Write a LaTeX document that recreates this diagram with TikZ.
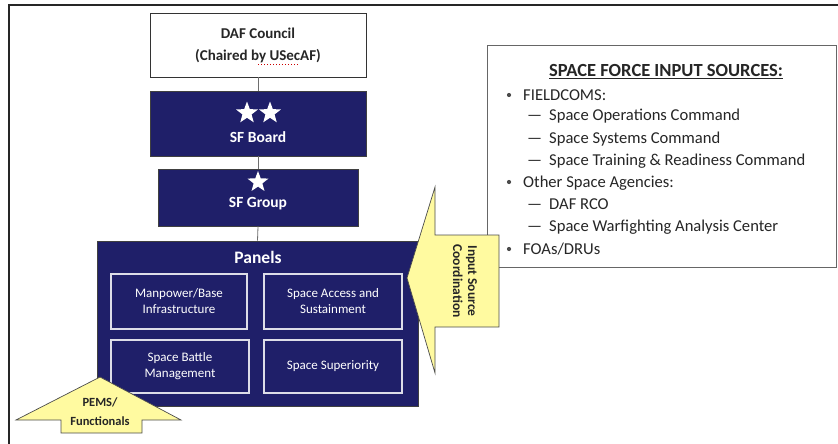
\documentclass[tikz,border=0pt]{standalone}
\usepackage{fontspec}
\setmainfont{Carlito}
\usetikzlibrary{shapes.geometric}
\definecolor{navy}{RGB}{31,31,105}
\definecolor{pale}{RGB}{255,250,160}
\definecolor{conn}{RGB}{110,110,110}
\begin{document}
\begin{tikzpicture}[x=1pt,y=-1pt,
  navybox/.style={draw=black!75, line width=0.8pt, fill=navy, inner sep=0pt},
  panelbox/.style={draw=white!85!navy, line width=1.2pt, fill=navy, inner sep=0pt, text=white, align=center, font=\fontsize{13}{16}\selectfont},
  whitestar/.style={star, star points=5, star point ratio=2.4, fill=white, inner sep=0pt, minimum size=23pt},
  boldlbl/.style={text=white, font=\bfseries\fontsize{15.5}{18}\selectfont, inner sep=0pt},
  connector/.style={draw=conn, line width=0.8pt},
  yellowarrow/.style={draw=black!70, line width=0.7pt, fill=pale},
  listtxt/.style={anchor=base west, inner sep=0pt, text=black!85, font=\fontsize{16.6}{19}\selectfont},
  bulletdot/.style={circle, fill=black!70, inner sep=0pt, minimum size=4.2pt},
]
\useasboundingbox (0,0) rectangle (838,444);
% outer frame (top and left edges visible)
\draw[line width=1.2pt, black!85] (9,444) -- (9,5) -- (838,5);

% DAF council
\node[draw=black!80, line width=0.9pt, fill=white, minimum width=216pt, minimum height=64pt, inner sep=0pt,
      align=center, font=\bfseries\fontsize{15}{22}\selectfont, text=black!85] (daf) at (258,45)
      {DAF Council\\(Chaired by USecAF)};
\draw[red!80!black, dotted, line width=1pt] (258,65) -- (298,65);

% SF Board
\node[navybox, minimum width=216pt, minimum height=65pt] (board) at (258,123.5) {};
\node[whitestar] (bstar1) at (247,113) {};
\node[whitestar] (bstar2) at (270,113) {};
\node[boldlbl] (boardlbl) at (258,137) {SF Board};

% SF Group
\node[navybox, minimum width=200pt, minimum height=57pt] (group) at (258,197.5) {};
\node[whitestar, minimum size=22pt] (gstar) at (258,182) {};
\node[boldlbl] (grouplbl) at (258,204) {SF Group};

% Panels
\node[navybox, minimum width=321pt, minimum height=165pt] (panels) at (257.5,323.5) {};
\node[text=white, font=\bfseries\fontsize{17.5}{20}\selectfont, inner sep=0pt] (panelslbl) at (258,257) {Panels};
\node[panelbox, minimum width=136pt, minimum height=55pt] (manpower) at (179,301.5) {Manpower/Base\\Infrastructure};
\node[panelbox, minimum width=138pt, minimum height=55pt] (access) at (333,301.5) {Space Access and\\Sustainment};
\node[panelbox, minimum width=138pt, minimum height=53pt] (battle) at (180,366.5) {Space Battle\\Management};
\node[panelbox, minimum width=138pt, minimum height=53pt] (superiority) at (333,366.5) {Space Superiority};

% connectors
\draw[connector] (daf.south) -- (board.north);
\draw[connector] (board.south) -- (group.north);
\draw[connector] (group.south) -- (panels.north);

% input sources box
\node[draw=black!60, line width=1pt, fill=white, minimum width=349pt, minimum height=222pt, inner sep=0pt, anchor=north west] (srcbox) at (487,45) {};
\node[inner sep=0pt, text=black!85, font=\bfseries\fontsize{18.5}{20}\selectfont] (srctitle) at (666,72) {\underline{SPACE FORCE INPUT SOURCES:}};
\node[bulletdot] (b1) at (509,95) {};
\node[listtxt] (t1) at (523,100) {FIELDCOMS:};
\node[listtxt] (d1) at (527,121) {—};
\node[listtxt] (t2) at (549,121) {Space Operations Command};
\node[listtxt] (d2) at (527,143) {—};
\node[listtxt] (t3) at (549,143) {Space Systems Command};
\node[listtxt] (d3) at (527,165) {—};
\node[listtxt] (t4) at (549,165) {Space Training \& Readiness Command};
\node[bulletdot] (b2) at (509,182) {};
\node[listtxt] (t5) at (523,187) {Other Space Agencies:};
\node[listtxt] (d4) at (527,209) {—};
\node[listtxt] (t6) at (549,209) {DAF RCO};
\node[listtxt] (d5) at (527,231) {—};
\node[listtxt] (t7) at (549,231) {Space Warfighting Analysis Center};
\node[bulletdot] (b3) at (509,249) {};
\node[listtxt] (t8) at (523,254) {FOAs/DRUs};

% Input Source Coordination arrow
\draw[yellowarrow] (407,278) -- (435,187) -- (435,235) -- (499,235) -- (499,327) -- (435,327) -- (435,373) -- cycle;
\node[rotate=-90, align=center, inner sep=0pt, text=black!85, font=\bfseries\fontsize{13.5}{15}\selectfont] (inputlbl) at (465,281) {Input Source\\Coordination};

% PEMS/Functionals arrow
\draw[yellowarrow] (100,377) -- (181,420) -- (142,420) -- (142,433) -- (61,433) -- (61,420) -- (16,420) -- cycle;
\node[align=center, inner sep=0pt, text=black!85, font=\bfseries\fontsize{12.5}{19}\selectfont] (pemslbl) at (100,412) {PEMS/\\Functionals};
\end{tikzpicture}
\end{document}
